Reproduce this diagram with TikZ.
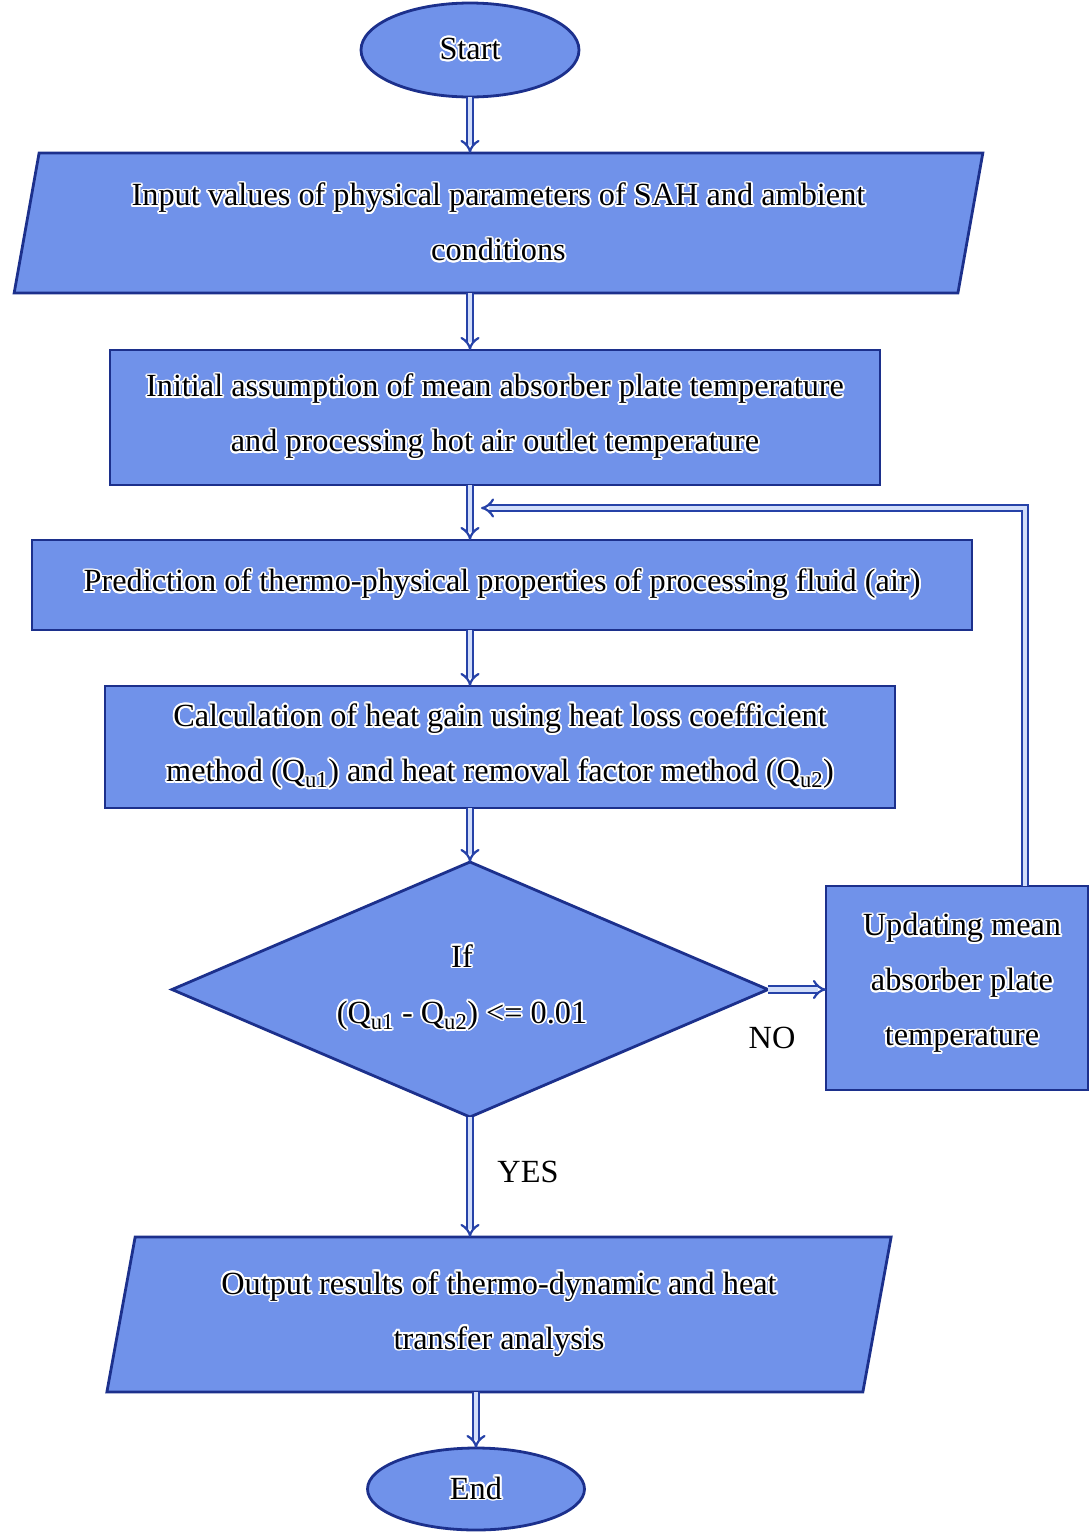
\documentclass[tikz,border=0pt]{standalone}
\usepackage{fontspec}
\setmainfont{Liberation Serif}
\usepackage[copies]{contour}
\contourlength{1.8pt}
\usetikzlibrary{shapes.geometric,arrows.meta}
\definecolor{boxfill}{RGB}{112,146,234}
\definecolor{boxline}{RGB}{28,48,140}
\definecolor{arrline}{RGB}{38,66,168}
\definecolor{arrin}{RGB}{210,222,250}
\newcommand{\gl}[1]{\contour{white}{#1}}
\begin{document}
\begin{tikzpicture}[x=1pt,y=-1pt,
  base/.style={draw=boxline, line width=2.8pt, fill=boxfill, inner sep=0pt, outer sep=0pt, align=center, font=\fontsize{32.3}{55}\selectfont},
  boxnode/.style={base, rectangle},
  ellnode/.style={base, ellipse},
  para/.style={base, trapezium, trapezium left angle=76, trapezium right angle=104, trapezium stretches=true},
  decide/.style={base, diamond, aspect=2.34},
  txt/.style={align=center, inner sep=0pt, font=\fontsize{32.3}{56}\selectfont},
  flow/.style={draw=arrline, double=arrin, line width=2.2pt, double distance=4.2pt, -{Implies}},
  lbl/.style={font=\fontsize{32.3}{36}\selectfont}
]
\useasboundingbox (0,0) rectangle (1089,1532);
\fill[white] (0,0) rectangle (1089,1532);

\node[ellnode, minimum width=218, minimum height=94] (start) at (470,50) {\gl{Start}};
\node[para, minimum width=977, minimum height=140] (input) at (498.5,223)
  {\gl{Input values of physical parameters of SAH and ambient}\\\gl{conditions}};
\node[boxnode, minimum width=770, minimum height=135] (init) at (495,417.5)
  {\gl{Initial assumption of mean absorber plate temperature}\\\gl{and processing hot air outlet temperature}};
\node[boxnode, minimum width=940, minimum height=90] (pred) at (502,585)
  {\gl{Prediction of thermo-physical properties of processing fluid (air)}};
\node[boxnode, minimum width=790, minimum height=122] (calc) at (500,747)
  {\gl{Calculation of heat gain using heat loss coefficient}\\\gl{method (Q\textsubscript{u1}) and heat removal factor method (Q\textsubscript{u2})}};
\node[decide, minimum width=596, minimum height=255] (dec) at (470,989.5) {};
\node[txt] (dectext) at (462,988)
  {\gl{If}\\\gl{(Q\textsubscript{u1} - Q\textsubscript{u2}) <= 0.01}};
\node[boxnode, minimum width=262, minimum height=204] (upd) at (957,988) {};
\node[txt, font=\fontsize{32.3}{55}\selectfont] (updtext) at (962,984)
  {\gl{Updating mean}\\\gl{absorber plate}\\\gl{temperature}};
\node[para, minimum width=788, minimum height=155] (out) at (499,1314.5)
  {\gl{Output results of thermo-dynamic and heat}\\\gl{transfer analysis}};
\node[ellnode, minimum width=217, minimum height=82] (end) at (476,1489) {\gl{End}};

\node[lbl] (no) at (772,1038) {NO};
\node[lbl] (yes) at (528,1172) {YES};

\coordinate (fbcorner) at (1025,508);
\coordinate (fbend) at (481,508);

\draw[flow] (start.south) -- (start.south |- input.north);
\draw[flow] (start.south |- input.south) -- (start.south |- init.north);
\draw[flow] (start.south |- init.south) -- (start.south |- pred.north);
\draw[flow] (start.south |- pred.south) -- (start.south |- calc.north);
\draw[flow] (dec.north |- calc.south) -- (dec.north);
\draw[flow] (dec.east) -- (upd.west |- dec.east);
\draw[flow] (dec.south) -- (dec.south |- out.north);
\draw[flow] (end.north |- out.south) -- (end.north);
\draw[flow] (upd.north -| fbcorner) -- (fbcorner) -- (fbend);
\end{tikzpicture}
\end{document}
